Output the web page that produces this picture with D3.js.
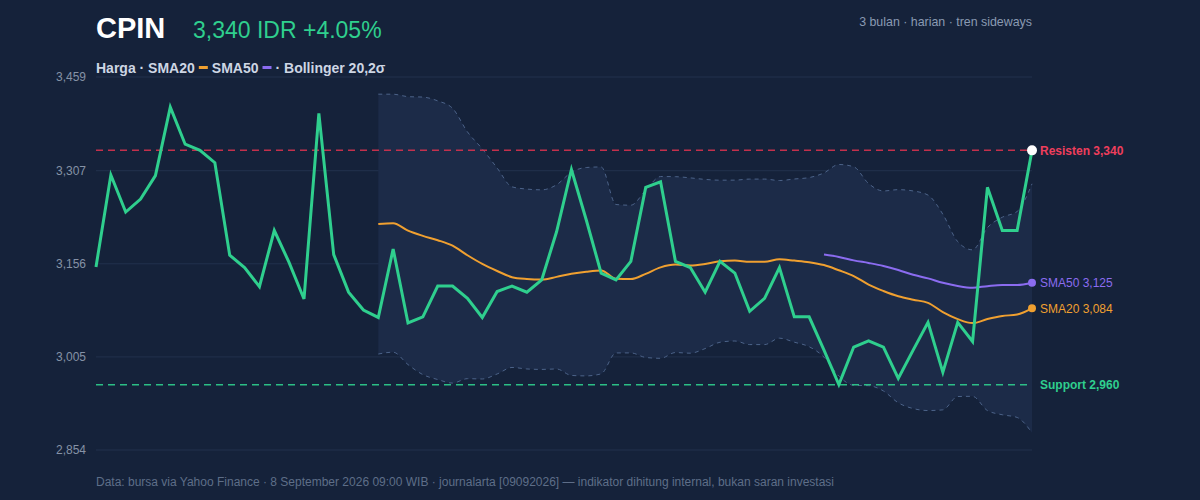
<!DOCTYPE html>
<html><head><meta charset="utf-8">
<script src="https://cdn.jsdelivr.net/npm/d3@7"></script>
<style>
html,body{margin:0;padding:0;background:#15223a;}
svg{display:block;font-family:"Liberation Sans",Arial,Helvetica,sans-serif;}
</style></head><body>
<svg id="c" width="1200" height="500"></svg>
<script>
const ticker = "CPIN";
const lastPriceText = "3,340 IDR +4.05%";
const subtitle = "3 bulan · harian · tren sideways";
const footer = "Data: bursa via Yahoo Finance · 8 September 2026 09:00 WIB · journalarta [09092026] — indikator dihitung internal, bukan saran investasi";
const prices = [3151,3300,3240,3261,3299,3410,3350,3340,3320,3170,
  3150,3119,3210,3158,3099,3400,3171,3110,3081,3069,
  3180,3060,3070,3120,3120,3100,3069,3111,3120,3110,
  3130,3208,3309,3227,3141,3130,3160,3280,3289,3160,
  3150,3110,3160,3141,3079,3100,3150,3070,3070,3016,
  2960,3021,3031,3021,2970,3016,3061,2980,3061,3030,
  3280,3210,3210,3340];
const yTicks = [2854,3005,3156,3307,3459];
const yDomain = [2854,3459];
const resistance = 3340;
const support = 2960;
const smaShort = 20, smaLong = 50, bbK = 2;

const svg = d3.select("#c");
const L=96, R=1032, T=77, B=450;
const x = d3.scaleLinear().domain([0,prices.length-1]).range([L,R]);
const y = d3.scaleLinear().domain(yDomain).range([B,T]);
const fmt = d3.format(",.0f");

function sma(n){return prices.map((p,i)=> i<n-1?null: d3.mean(prices.slice(i-n+1,i+1)));}
const s20 = sma(smaShort), s50 = sma(smaLong);
const bb = prices.map((p,i)=>{ if(i<smaShort-1) return null; const w=prices.slice(i-smaShort+1,i+1); const m=d3.mean(w); const sd=Math.sqrt(d3.mean(w,v=>(v-m)*(v-m))); return {i,up:m+bbK*sd,lo:m-bbK*sd};}).filter(d=>d);

// grid
svg.append("g").selectAll("line").data(yTicks).join("line")
  .attr("x1",L).attr("x2",R).attr("y1",d=>y(d)).attr("y2",d=>y(d))
  .attr("stroke","#22314d").attr("stroke-width",1);
svg.append("g").selectAll("text").data(yTicks).join("text")
  .attr("x",86).attr("y",d=>y(d)+4).attr("text-anchor","end")
  .attr("fill","#8592a6").attr("font-size",12).text(d=>fmt(d));

// bollinger band
const curve = d3.curveMonotoneX;
svg.append("path").datum(bb).attr("d", d3.area().x(d=>x(d.i)).y0(d=>y(d.lo)).y1(d=>y(d.up)).curve(curve))
  .attr("fill","#1c2b48");
["up","lo"].forEach(k=>{
  svg.append("path").datum(bb).attr("d", d3.line().x(d=>x(d.i)).y(d=>y(d[k])).curve(curve))
   .attr("fill","none").attr("stroke","#4c6389").attr("stroke-width",1).attr("stroke-dasharray","4,4");
});

// resistance / support
[[resistance,"#d6324f","#ef3e5c","Resisten "],[support,"#2fcf8e","#2fcf8e","Support "]].forEach(([v,c,tc,lab])=>{
  svg.append("line").attr("x1",L).attr("x2",R).attr("y1",y(v)).attr("y2",y(v))
   .attr("stroke",c).attr("stroke-width",1.5).attr("stroke-dasharray","7,5").attr("opacity",0.9);
  svg.append("text").attr("x",1040).attr("y",y(v)+4.5).attr("fill",tc)
   .attr("font-size",12).attr("font-weight","bold").text(lab+fmt(v));
});

// SMAs
const lineS = d3.line().defined(d=>d!=null).x((d,i)=>x(i)).y(d=>y(d)).curve(curve);
svg.append("path").datum(s20).attr("d",lineS).attr("fill","none").attr("stroke","#f0a030").attr("stroke-width",2);
svg.append("path").datum(s50).attr("d",lineS).attr("fill","none").attr("stroke","#8b6cf0").attr("stroke-width",2);

// price
svg.append("path").datum(prices).attr("d", d3.line().x((d,i)=>x(i)).y(d=>y(d)))
  .attr("fill","none").attr("stroke","#2fcf8e").attr("stroke-width",3).attr("stroke-linejoin","miter");

const n=prices.length-1;
svg.append("circle").attr("cx",x(n)).attr("cy",y(s50[n])).attr("r",4).attr("fill","#8b6cf0");
svg.append("circle").attr("cx",x(n)).attr("cy",y(s20[n])).attr("r",4).attr("fill","#f0a030");
svg.append("circle").attr("cx",x(n)).attr("cy",y(prices[n])).attr("r",5).attr("fill","#ffffff");
svg.append("text").attr("x",1040).attr("y",y(s50[n])+4.5).attr("fill","#8b6cf0").attr("font-size",12).text("SMA50 "+fmt(s50[n]));
svg.append("text").attr("x",1040).attr("y",y(s20[n])+4.5).attr("fill","#f0a030").attr("font-size",12).text("SMA20 "+fmt(s20[n]));

// header
svg.append("text").attr("x",96).attr("y",38).attr("fill","#ffffff").attr("font-size",29).attr("font-weight","bold").text(ticker);
svg.append("text").attr("x",193).attr("y",38).attr("fill","#2fcf8e").attr("font-size",23).text(lastPriceText);
svg.append("text").attr("x",1032).attr("y",26).attr("text-anchor","end").attr("fill","#8a9ab2").attr("font-size",12.4).text(subtitle);

// legend
const lg = svg.append("g").attr("font-size",14).attr("font-weight","bold").attr("fill","#cdd6e4");
let cx = 96;
function lt(s){const t=lg.append("text").attr("x",cx).attr("y",73).text(s); cx += t.node().getComputedTextLength(); }
function sw(c){ cx+=4; lg.append("rect").attr("x",cx).attr("y",66).attr("width",9).attr("height",3).attr("fill",c); cx+=13; }
lt("Harga · SMA20"); sw("#f0a030"); lt("SMA50"); sw("#8b6cf0"); lt("· Bollinger 20,2σ");

svg.append("text").attr("x",96).attr("y",486).attr("fill","#5e6e88").attr("font-size",12).text(footer);
</script></body></html>
